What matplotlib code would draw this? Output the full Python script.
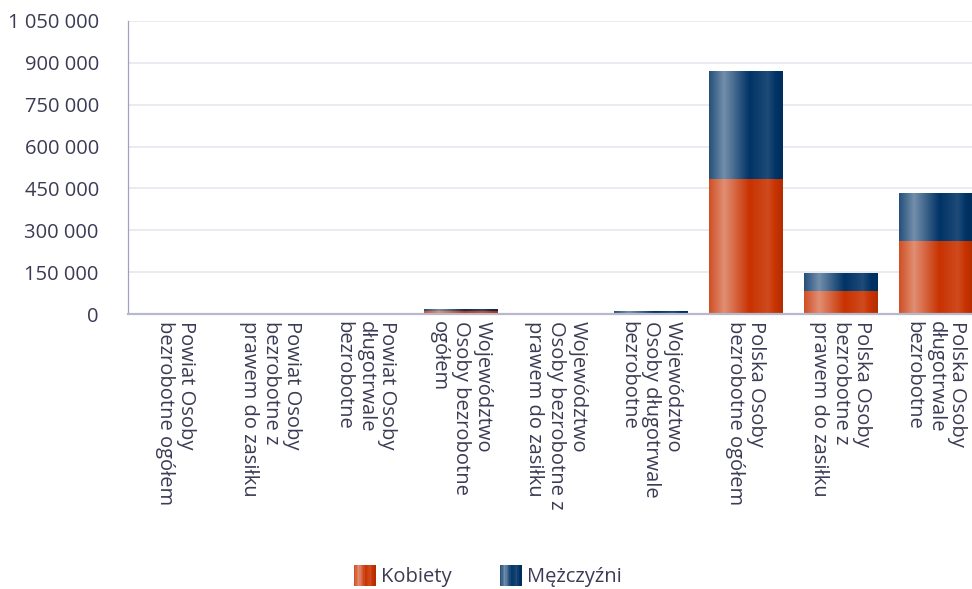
import numpy as np
import matplotlib
matplotlib.use("Agg")
import matplotlib.pyplot as plt
from matplotlib.patches import Rectangle
from matplotlib.legend_handler import HandlerBase
from matplotlib.colors import to_rgb

categories = [
    "Powiat Osoby\nbezrobotne ogółem",
    "Powiat Osoby\nbezrobotne z\nprawem do zasiłku",
    "Powiat Osoby\ndługotrwale\nbezrobotne",
    "Województwo\nOsoby bezrobotne\nogółem",
    "Województwo\nOsoby bezrobotne z\nprawem do zasiłku",
    "Województwo\nOsoby długotrwale\nbezrobotne",
    "Polska Osoby\nbezrobotne ogółem",
    "Polska Osoby\nbezrobotne z\nprawem do zasiłku",
    "Polska Osoby\ndługotrwale\nbezrobotne",
]
kobiety = [700, 90, 300, 10500, 1300, 3800, 484000, 82000, 262000]
mezczyzni = [600, 80, 250, 8000, 1100, 7500, 387000, 65000, 172000]
series_names = ["Kobiety", "Mężczyźni"]
yticks = [0, 150000, 300000, 450000, 600000, 750000, 900000, 1050000]

ORANGE = "#c83200"
NAVY = "#003366"
TEXT = "#3b3b55"
FS = 14.5

plt.rcParams["font.family"] = ["Open Sans", "DejaVu Sans"]


def shade(color, f):
    c = np.array(to_rgb(color))
    if f >= 0:
        return c + (1 - c) * f
    return c * (1 + f)


def gradient_row(color, n=64):
    stops = [0.0, 0.2, 0.55, 0.8, 1.0]
    amts = [0.15, 0.45, 0.0, 0.12, -0.1]
    xs = np.linspace(0, 1, n)
    a = np.interp(xs, stops, amts)
    return np.array([shade(color, v) for v in a])


class GradHandler(HandlerBase):
    def __init__(self, color):
        super().__init__()
        self.color = color

    def create_artists(self, legend, orig_handle, xdescent, ydescent,
                       width, height, fontsize, trans):
        cols = gradient_row(self.color, 16)
        w = width
        h = width
        x0 = -xdescent
        y0 = -ydescent + (height - h) / 2
        out = []
        for i, c in enumerate(cols):
            r = Rectangle((x0 + i * w / 16, y0), w / 16 + 0.3, h,
                          facecolor=c, edgecolor="none", transform=trans)
            out.append(r)
        return out


fig = plt.figure(figsize=(9.72, 5.89), dpi=100)
ax = fig.add_axes([128 / 972, 1 - 314 / 589, 9 * 95 / 972, 293 / 589])

x = np.arange(len(categories))
width = 0.77
b1 = ax.bar(x, kobiety, width, color=ORANGE, zorder=2, label=series_names[0])
b2 = ax.bar(x, mezczyzni, width, bottom=kobiety, color=NAVY, zorder=2,
            label=series_names[1])

for bars, col in [(b1, ORANGE), (b2, NAVY)]:
    img = gradient_row(col)[np.newaxis, :, :]
    for p in bars:
        x0, y0 = p.get_x(), p.get_y()
        im = ax.imshow(img, extent=(x0, x0 + p.get_width(), y0, y0 + p.get_height()),
                       aspect="auto", interpolation="bilinear", zorder=3)
        im.set_clip_path(p)

ax.set_xlim(-0.5, len(categories) - 0.5)
ax.set_ylim(0, 1050000)
ax.set_yticks(yticks)
ax.set_yticklabels([f"{v:,}".replace(",", " ") for v in yticks])
ax.set_xticks(x)
ax.set_xticklabels(categories, rotation=270, va="top", ha="center",
                   multialignment="left", linespacing=1.12)
ax.tick_params(axis="both", length=0, labelsize=FS, colors=TEXT)
ax.tick_params(axis="x", pad=5)
ax.tick_params(axis="y", pad=21)
ax.grid(axis="y", color="#e6e6ee", linewidth=1.2, zorder=0)
ax.set_axisbelow(True)
for s in ["top", "right"]:
    ax.spines[s].set_visible(False)
ax.spines["left"].set_color("#a0a0c0")
ax.spines["left"].set_linewidth(0.9)
ax.spines["bottom"].set_color("#b8b8cc")
ax.spines["bottom"].set_linewidth(1.6)
ax.spines["bottom"].set_zorder(4)

leg = fig.legend([b1, b2], series_names, loc="center", bbox_to_anchor=(488 / 972, 1 - 577 / 589),
                 ncol=2, frameon=False, fontsize=FS, handlelength=1.05, handleheight=1.0,
                 handletextpad=0.3, columnspacing=2.4,
                 handler_map={b1: GradHandler(ORANGE), b2: GradHandler(NAVY)})
for t in leg.get_texts():
    t.set_color(TEXT)

fig.savefig("out.png", dpi=100)
